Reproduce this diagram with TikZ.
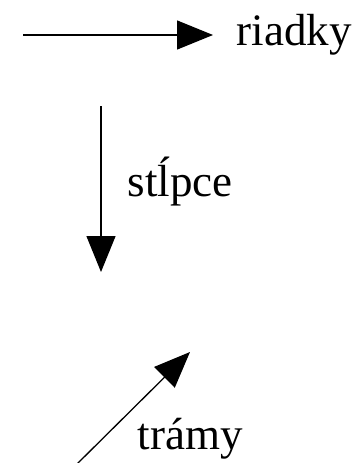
\documentclass[tikz,border=0pt]{standalone}
\usepackage{fontspec}
\setmainfont{LiberationSerif-Regular.ttf}
\usetikzlibrary{arrows.meta}
\tikzset{axlabel/.style={anchor=base west,inner sep=0pt,font=\rmfamily\fontsize{45}{50}\selectfont}}
\begin{document}
\begin{tikzpicture}[x=1pt,y=-1pt,>={Triangle[length=36pt,width=29pt]},line width=1.3pt]
        \useasboundingbox (0,0) rectangle (358,463);
        \coordinate (r0) at (23,35);
        \coordinate (r1) at (213,35);
        \coordinate (s0) at (101,106);
        \coordinate (s1) at (101,272);
        \coordinate (t0) at (76,465);
        \coordinate (t1) at (190,352);
        \node[axlabel] (riadky) at (236,45) {riadky};
        \node[axlabel] (stlpce) at (127,196) {stĺpce};
        \node[axlabel] (tramy) at (137,449) {trámy};
        \draw[->] (r0)--(r1);
        \draw[->] (s0)--(s1);
        \draw[->] (t0)--(t1);
        \end{tikzpicture}
\end{document}
